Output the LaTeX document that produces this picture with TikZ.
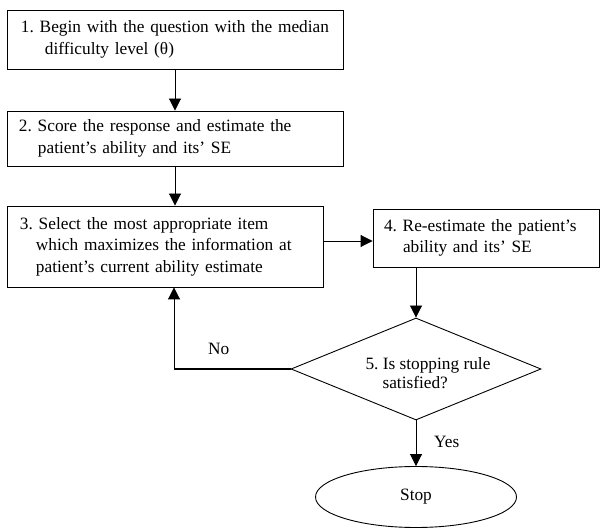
\documentclass[tikz,border=0pt]{standalone}
\usepackage{fontspec}
\setmainfont{Liberation Serif}
\usetikzlibrary{shapes.geometric,arrows.meta}
\frenchspacing
\begin{document}
\begin{tikzpicture}[x=1pt,y=-1pt,
  every node/.style={font=\fontsize{17.3}{21.5}\selectfont},
  box/.style={draw, line width=0.9pt, align=left, inner sep=0pt},
  arr/.style={line width=0.9pt, -{Triangle[length=12pt,width=12pt]}}]
\useasboundingbox (0,0) rectangle (603,529);

\node[box, minimum width=336pt, minimum height=59pt, text width=334pt] (b1) at (175,39.5)
  {\hspace*{13pt}1. Begin with the question with the median\\\hspace*{37pt}difficulty level (θ)};
\node[box, minimum width=336pt, minimum height=55pt, text width=334pt] (b2) at (175,138.5)
  {\hspace*{11pt}2. Score the response and estimate the\\\hspace*{30pt}patient’s ability and its’ SE};
\node[box, minimum width=316pt, minimum height=81pt, text width=314pt] (b3) at (165,246.5)
  {\hspace*{12pt}3. Select the most appropriate item\\\hspace*{28pt}which maximizes the information at\\\hspace*{28pt}patient’s current ability estimate};
\node[box, minimum width=226pt, minimum height=58pt, text width=224pt] (b4) at (486,238)
  {\hspace*{10pt}4. Re-estimate the patient’s\\\hspace*{29pt}ability and its’ SE};

\node[diamond, draw, line width=0.9pt, minimum width=250pt, minimum height=102pt, inner sep=0pt] (d) at (416,369) {};
\node[align=left, inner sep=0pt, font=\fontsize{17.3}{19}\selectfont] (dt) at (428,373.5)
  {5. Is stopping rule\\\hspace*{17pt}satisfied?};

\node[ellipse, draw, line width=0.9pt, minimum width=201pt, minimum height=61pt, inner sep=0pt] (stop) at (416,497) {Stop};

\node[anchor=base west, inner sep=0pt] (no) at (208,355) {No};
\node[anchor=base west, inner sep=0pt] (yes) at (434,448) {Yes};

\draw[arr] (b1.south) -- (b2.north);
\draw[arr] (b2.south) -- (b2.south |- b3.north);
\draw[arr] (b3.east |- 0,241) -- (b4.west |- 0,241);
\draw[arr] (b4.south -| d.north) -- (d.north);
\coordinate (nc) at (174,369);
\draw[line width=2pt] (d.west) -- (nc);
\draw[arr] (nc) -- (nc |- b3.south);
\draw[arr] (d.south) -- (stop.north);
\end{tikzpicture}
\end{document}
